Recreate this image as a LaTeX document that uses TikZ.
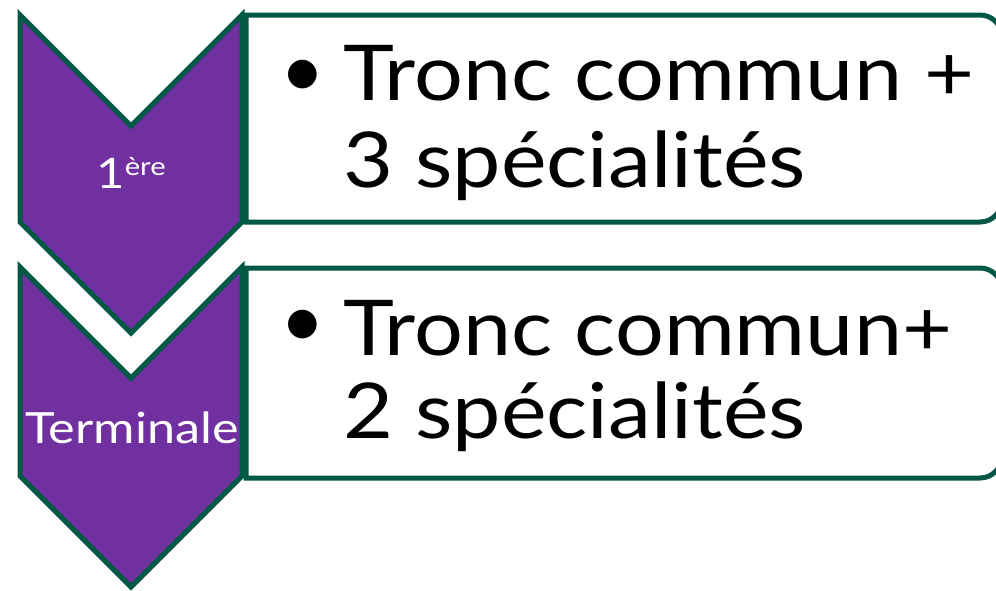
\documentclass[tikz,border=0pt]{standalone}
\usepackage{fontspec}
\setmainfont{Lato}
\newfontfamily\bigfont[FakeStretch=1.12]{Lato}
\newfontfamily\labfont[FakeStretch=1.17]{Lato}
\definecolor{chevfill}{RGB}{112,48,160}
\definecolor{edge}{RGB}{0,88,70}
\begin{document}
\begin{tikzpicture}[x=1pt,y=-1pt,
  chev/.style={fill=chevfill,draw=edge,line width=5pt,line join=miter},
  boxline/.style={fill=white,draw=edge,line width=5pt},
  bigtxt/.style={inner sep=0pt,anchor=base west,font=\bigfont\fontsize{77}{87}\selectfont,text=black},
  bul/.style={inner sep=0pt,anchor=center,font=\fontsize{77}{87}\selectfont,text=black},
  lab/.style={inner sep=0pt,anchor=base,text=white}]
\useasboundingbox (0,0) rectangle (996,590);
% boxes (right corners rounded)
\draw[boxline] (246,222) -- (246,15) -- (980,15) .. controls (992.1,15) and (1002,24.9) .. (1002,37)
  -- (1002,200) .. controls (1002,212.1) and (992.1,222) .. (980,222) -- cycle;
\draw[boxline] (246,478) -- (246,268) -- (980,268) .. controls (992.1,268) and (1002,277.9) .. (1002,290)
  -- (1002,456) .. controls (1002,468.1) and (992.1,478) .. (980,478) -- cycle;
% chevrons
\draw[chev] (20,15) -- (131,126) -- (242,15) -- (242,222) -- (131,333) -- (20,222) -- cycle;
\draw[chev] (20,267) -- (131,378) -- (242,267) -- (242,476) -- (131,587) -- (20,476) -- cycle;
% labels
\node[lab,font=\labfont\fontsize{42}{50}\selectfont] (l1) at (131,188) {1\raisebox{13pt}{\fontsize{25}{30}\selectfont ère}};
\node[lab,font=\labfont\fontsize{43}{50}\selectfont] (l2) at (132,443) {Terminale};
% texts
\node[bul] (b1) at (303,79) {•};
\node[bigtxt] (t1a) at (343,100) {Tronc commun +};
\node[bigtxt] (t1b) at (343,187) {3 spécialités};
\node[bul] (b2) at (303,329) {•};
\node[bigtxt] (t2a) at (343,355) {Tronc commun+};
\node[bigtxt] (t2b) at (343,438) {2 spécialités};
\end{tikzpicture}
\end{document}
